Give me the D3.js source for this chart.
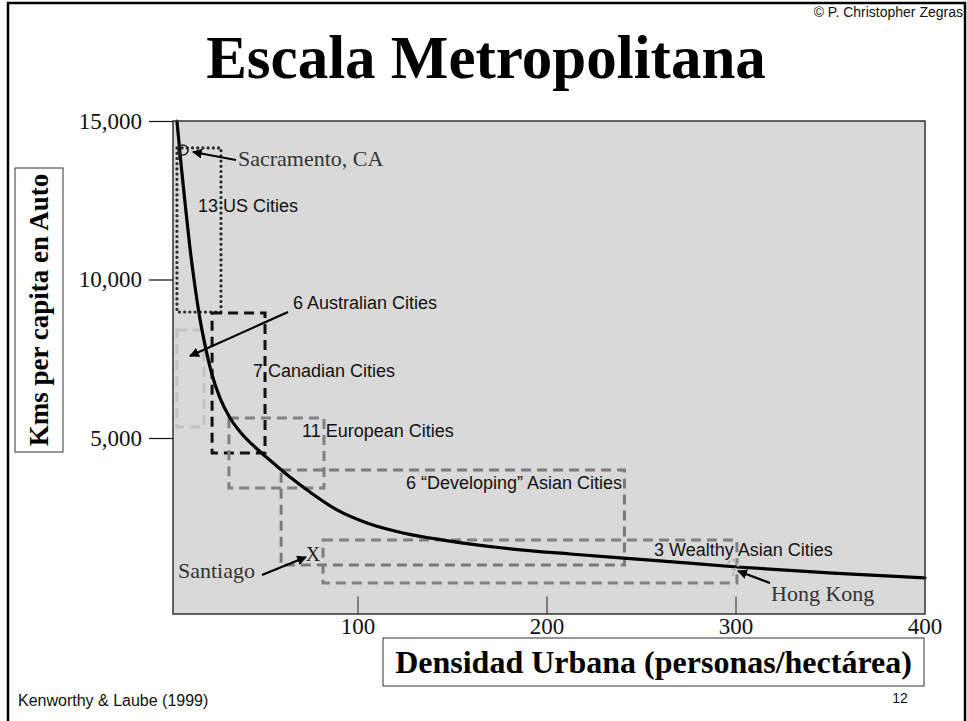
<!DOCTYPE html>
<html>
<head>
<meta charset="utf-8">
<script src="https://cdn.jsdelivr.net/npm/d3@7"></script>
<style>
  html, body { margin: 0; padding: 0; background: #fff; }
  svg { display: block; }
</style>
</head>
<body>
<svg id="chart" width="967" height="721"></svg>
<script>
// ---------------- DATA ----------------
const curveX = [4.2, 6.3, 8.5, 11.1, 13.8, 16.4, 19.6, 22.8, 27.0, 32.3, 38.6, 46.0, 54.5, 64.0, 74.6, 88.9, 106.3, 123.8, 145.0, 176.7, 212.2, 254.5, 300.5, 351.3, 400];
const curveY = [15000, 13680, 12410, 10990, 9760, 8750, 7780, 6990, 6260, 5630, 5125, 4685, 4245, 3770, 3295, 2730, 2285, 2005, 1780, 1530, 1340, 1150, 930, 740, 585];

const groupNames = ["13 US Cities", "6 Australian Cities", "7 Canadian Cities", "11 European Cities", "6 \u201CDeveloping\u201D Asian Cities", "3 Wealthy Asian Cities"];
const groupXMin = [4.2, 4.2, 22.8, 31.7, 59.3, 81.5];
const groupXMax = [27.5, 18.5, 50.8, 82.0, 241, 300.5];
const groupYMin = [8975, 5350, 4530, 3420, 995, 425];
const groupYMax = [14150, 8410, 8945, 5630, 3990, 1780];

const cityNames = ["Sacramento, CA", "Santiago", "Hong Kong"];
const cityX = [7.4, 76.2, 297.9];
const cityY = [14085, 1372, 899];

const xTicks = [100, 200, 300, 400];
const yTicks = [5000, 10000, 15000];

const titleText = "Escala Metropolitana";
const xTitle = "Densidad Urbana (personas/hect\u00E1rea)";
const yTitle = "Kms per capita en Auto";
const sourceText = "Kenworthy & Laube (1999)";
const copyText = "\u00A9 P. Christopher Zegras";
const pageNum = "12";

// ---------------- LAYOUT / STYLE ----------------
const svg = d3.select("#chart");
const plot = { left: 173, right: 925, top: 121, bottom: 614 };
const x = d3.scaleLinear().domain([0, 400]).range([169, 925]);
const y = d3.scaleLinear().domain([0, 15000]).range([596.5, 121]);

const serif = "'Liberation Serif', 'Times New Roman', serif";
const sans = "'Liberation Sans', Arial, sans-serif";

const groupStyles = [
  { stroke: "#2a2a2a", dash: "0,5.2", width: 3.2, cap: "round" },
  { stroke: "#c2c2c2", dash: "10,6", width: 3, cap: "butt" },
  { stroke: "#111111", dash: "10,6", width: 3, cap: "butt" },
  { stroke: "#808080", dash: "10,6", width: 3, cap: "butt" },
  { stroke: "#7a7a7a", dash: "10,6", width: 3, cap: "butt" },
  { stroke: "#808080", dash: "10,6", width: 3, cap: "butt" }
];
const groupLabelPos = [
  { x: 198, y: 212, anchor: "start" },
  { x: 293, y: 309, anchor: "start" },
  { x: 253, y: 377, anchor: "start" },
  { x: 302, y: 437, anchor: "start" },
  { x: 622, y: 489, anchor: "end" },
  { x: 654, y: 556, anchor: "start" }
];

// slide frame
svg.append("rect").attr("x", 8).attr("y", 3).attr("width", 957).attr("height", 760)
  .attr("fill", "none").attr("stroke", "#000").attr("stroke-width", 2.5);

// copyright
svg.append("text").attr("x", 963).attr("y", 17).attr("text-anchor", "end")
  .attr("font-family", sans).attr("font-size", 14).attr("fill", "#111").text(copyText);

// title
svg.append("text").attr("x", 486).attr("y", 78).attr("text-anchor", "middle")
  .attr("font-family", serif).attr("font-weight", "bold").attr("font-size", 61)
  .attr("fill", "#000").text(titleText);

// arrow marker
const defs = svg.append("defs");
defs.append("marker").attr("id", "arr").attr("viewBox", "0 0 10 10")
  .attr("refX", 9).attr("refY", 5).attr("markerWidth", 4.5).attr("markerHeight", 4.5)
  .attr("orient", "auto").attr("markerUnits", "strokeWidth")
  .append("path").attr("d", "M0,0 L10,5 L0,10 z").attr("fill", "#000");

defs.append("clipPath").attr("id", "clip").append("rect")
  .attr("x", plot.left).attr("y", plot.top - 3)
  .attr("width", plot.right - plot.left + 3).attr("height", plot.bottom - plot.top + 3);

// plot background
svg.append("rect").attr("x", plot.left).attr("y", plot.top)
  .attr("width", plot.right - plot.left).attr("height", plot.bottom - plot.top)
  .attr("fill", "#d9d9d9");

const g = svg.append("g").attr("clip-path", "url(#clip)");

// x ticks inside the plot
g.selectAll(".xt").data(xTicks.slice(0, 3)).enter().append("line")
  .attr("x1", d => x(d)).attr("x2", d => x(d))
  .attr("y1", y(0)).attr("y2", plot.bottom)
  .attr("stroke", "#222").attr("stroke-width", 1);

// group boxes
g.selectAll(".box").data(groupNames).enter().append("rect")
  .attr("x", (d, i) => x(groupXMin[i]))
  .attr("y", (d, i) => y(groupYMax[i]))
  .attr("width", (d, i) => x(groupXMax[i]) - x(groupXMin[i]))
  .attr("height", (d, i) => y(groupYMin[i]) - y(groupYMax[i]))
  .attr("fill", "none")
  .attr("stroke", (d, i) => groupStyles[i].stroke)
  .attr("stroke-width", (d, i) => groupStyles[i].width)
  .attr("stroke-dasharray", (d, i) => groupStyles[i].dash)
  .attr("stroke-linecap", (d, i) => groupStyles[i].cap);

// curve
const line = d3.line().x(d => x(d[0])).y(d => y(d[1])).curve(d3.curveMonotoneX);
g.append("path").datum(curveX.map((v, i) => [v, curveY[i]]))
  .attr("d", line).attr("fill", "none").attr("stroke", "#000").attr("stroke-width", 3.2)
  .attr("stroke-linecap", "round");

// group labels
svg.selectAll(".gl").data(groupNames).enter().append("text")
  .attr("x", (d, i) => groupLabelPos[i].x).attr("y", (d, i) => groupLabelPos[i].y)
  .attr("text-anchor", (d, i) => groupLabelPos[i].anchor)
  .attr("font-family", sans).attr("font-size", 18).attr("fill", "#111")
  .text(d => d);

// Sacramento marker
svg.append("circle").attr("cx", x(cityX[0])).attr("cy", y(cityY[0])).attr("r", 5)
  .attr("fill", "none").attr("stroke", "#222").attr("stroke-width", 1.6);
svg.append("line").attr("x1", x(cityX[0]) - 4).attr("x2", x(cityX[0]) - 4)
  .attr("y1", y(cityY[0])).attr("y2", y(cityY[0]) + 10)
  .attr("stroke", "#222").attr("stroke-width", 1.6);
// Santiago X
svg.append("text").attr("x", x(cityX[1])).attr("y", y(cityY[1]) + 8)
  .attr("text-anchor", "middle").attr("font-family", serif).attr("font-size", 20)
  .attr("fill", "#222").text("X");
// Hong Kong marker
svg.append("path")
  .attr("d", `M${x(cityX[2]) - 4},${y(cityY[2]) - 4} a5,5 0 1 1 5,6 v6`)
  .attr("fill", "none").attr("stroke", "#b5b5b5").attr("stroke-width", 2.5)
  .attr("stroke-dasharray", "4,2");

// city annotations
const cityLabelPos = [
  { x: 238, y: 166, ax1: 236, ay1: 160, ax2: x(cityX[0]) + 10, ay2: y(cityY[0]) + 2 },
  { x: 178, y: 578, ax1: 262, ay1: 575, ax2: x(cityX[1]) - 7, ay2: y(cityY[1]) + 4 },
  { x: 771, y: 601, ax1: 770, ay1: 583, ax2: x(cityX[2]) + 6, ay2: y(cityY[2]) + 3 }
];
svg.selectAll(".cl").data(cityNames).enter().append("text")
  .attr("x", (d, i) => cityLabelPos[i].x).attr("y", (d, i) => cityLabelPos[i].y)
  .attr("font-family", serif).attr("font-size", 22).attr("fill", "#333")
  .text(d => d);
svg.selectAll(".ca").data(cityNames).enter().append("line")
  .attr("x1", (d, i) => cityLabelPos[i].ax1).attr("y1", (d, i) => cityLabelPos[i].ay1)
  .attr("x2", (d, i) => cityLabelPos[i].ax2).attr("y2", (d, i) => cityLabelPos[i].ay2)
  .attr("stroke", "#000").attr("stroke-width", 2.2).attr("marker-end", "url(#arr)");

// Australian arrow
svg.append("line").attr("x1", 288).attr("y1", 312).attr("x2", 190).attr("y2", 356)
  .attr("stroke", "#000").attr("stroke-width", 2.2).attr("marker-end", "url(#arr)");

// plot border
svg.append("rect").attr("x", plot.left).attr("y", plot.top)
  .attr("width", plot.right - plot.left).attr("height", plot.bottom - plot.top)
  .attr("fill", "none").attr("stroke", "#333").attr("stroke-width", 1.5);

// y axis ticks and labels
const yAxis = d3.axisLeft(y).tickValues(yTicks).tickSize(24).tickPadding(7)
  .tickFormat(d3.format(","));
const ya = svg.append("g").attr("transform", `translate(${plot.left},0)`).call(yAxis);
ya.select(".domain").remove();
ya.selectAll(".tick line").attr("stroke", "#111").attr("stroke-width", 1.2);
ya.selectAll(".tick text").attr("font-family", serif).attr("font-size", 23).attr("fill", "#111")
  .attr("dy", "0.32em");

// x tick labels
svg.selectAll(".xl").data(xTicks).enter().append("text")
  .attr("x", d => x(d)).attr("y", 634).attr("text-anchor", "middle")
  .attr("font-family", serif).attr("font-size", 23).attr("fill", "#111")
  .text(d => d);

// x title box
svg.append("rect").attr("x", 383).attr("y", 638).attr("width", 541).attr("height", 48)
  .attr("fill", "#fff").attr("stroke", "#333").attr("stroke-width", 1);
svg.append("text").attr("x", 653.5).attr("y", 673).attr("text-anchor", "middle")
  .attr("font-family", serif).attr("font-weight", "bold").attr("font-size", 32)
  .attr("fill", "#000").text(xTitle);

// y title box
svg.append("rect").attr("x", 15).attr("y", 168).attr("width", 48).attr("height", 284)
  .attr("fill", "#fff").attr("stroke", "#333").attr("stroke-width", 1);
svg.append("text").attr("transform", "translate(48,310) rotate(-90)")
  .attr("text-anchor", "middle")
  .attr("font-family", serif).attr("font-weight", "bold").attr("font-size", 27)
  .attr("fill", "#000").text(yTitle);

// source & page number
svg.append("text").attr("x", 18).attr("y", 706)
  .attr("font-family", sans).attr("font-size", 16).attr("fill", "#111").text(sourceText);
svg.append("text").attr("x", 900).attr("y", 703).attr("text-anchor", "middle")
  .attr("font-family", sans).attr("font-size", 14).attr("fill", "#111").text(pageNum);
</script>
</body>
</html>
